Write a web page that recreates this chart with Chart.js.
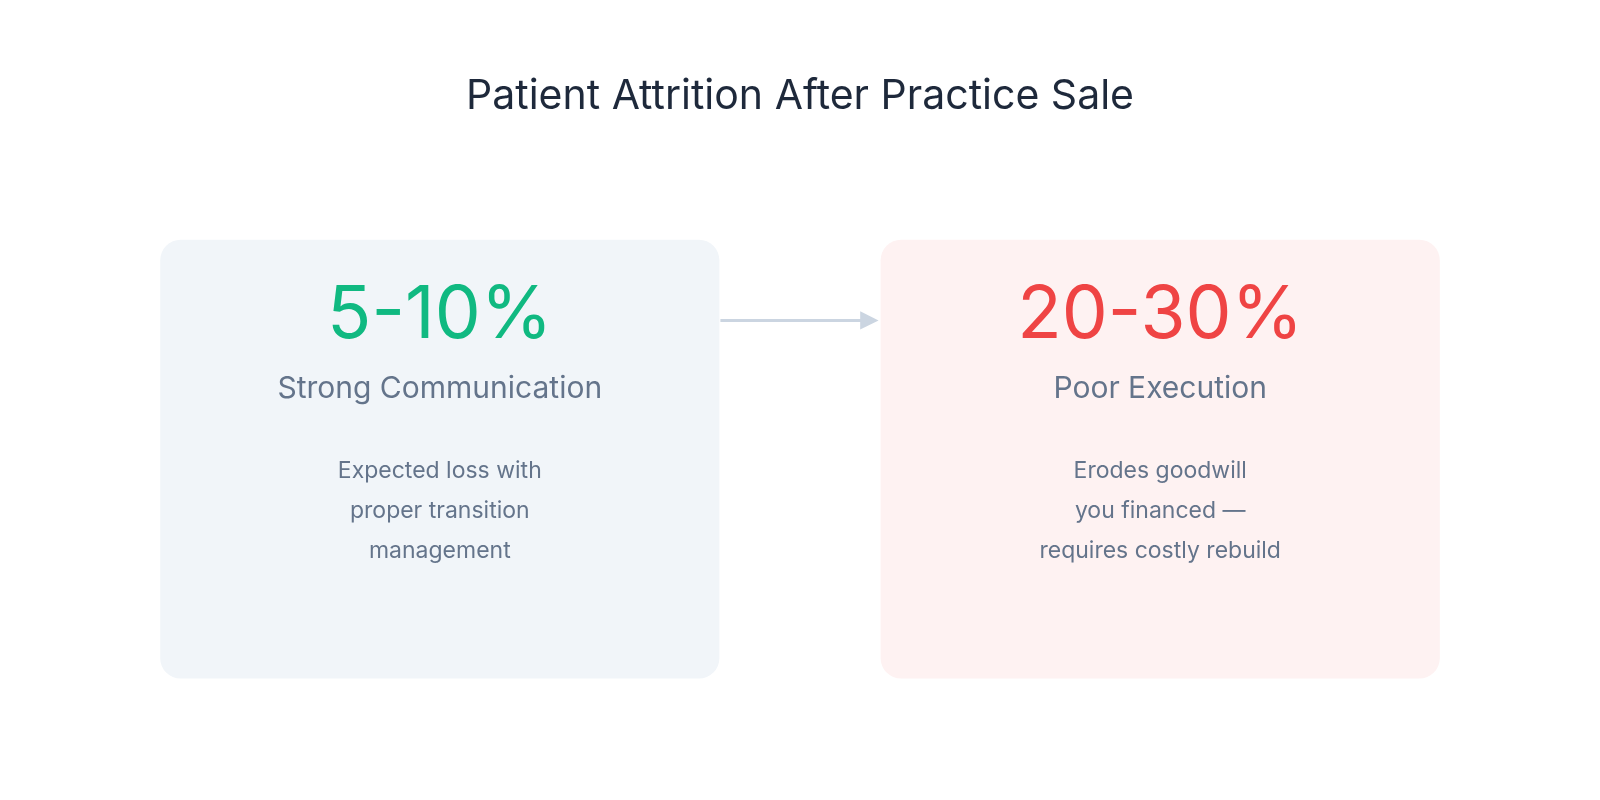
<!DOCTYPE html>
<html>
<head>
<meta charset="utf-8">
<script src="https://cdn.jsdelivr.net/npm/chart.js@4"></script>
<style>
  html, body { margin: 0; padding: 0; background: #ffffff; overflow: hidden; }
  #wrap { width: 1600px; height: 800px; }
</style>
</head>
<body>
<div id="wrap"><canvas id="c"></canvas></div>
<script>
var title = "Patient Attrition After Practice Sale";
var cardValues = ["5-10%", "20-30%"];
var cardLabels = ["Strong Communication", "Poor Execution"];
var cardNotes = [
  ["Expected loss with", "proper transition", "management"],
  ["Erodes goodwill", "you financed \u2014", "requires costly rebuild"]
];
var valueColors = ["#10b981", "#ef4444"];
var cardFills = ["#f1f5f9", "#fef2f2"];

var FONT = "Inter, 'Noto Sans', sans-serif";

function roundRect(ctx, x, y, w, h, r) {
  ctx.beginPath();
  ctx.moveTo(x + r, y);
  ctx.arcTo(x + w, y, x + w, y + h, r);
  ctx.arcTo(x + w, y + h, x, y + h, r);
  ctx.arcTo(x, y + h, x, y, r);
  ctx.arcTo(x, y, x + w, y, r);
  ctx.closePath();
}

// draws the cards using the chart's own (hidden) scales as a pixel grid
var cardsPlugin = {
  id: "cards",
  afterDraw: function (chart) {
    var ctx = chart.ctx;
    var sx = chart.scales.x, sy = chart.scales.y;
    var X = function (v) { return sx.getPixelForValue(v); };
    var Y = function (v) { return sy.getPixelForValue(v); };
    var k = chart.width / 1568;
    var f = function (px) { return Math.round(px * k) + "px " + FONT; };
    ctx.save();
    ctx.textAlign = "center";
    ctx.textBaseline = "middle";
    ctx.fillStyle = "#1e293b";
    ctx.font = f(40);
    ctx.fillText(title, X(784), Y(95));

    var lefts = [157, 863];
    lefts.forEach(function (l, i) {
      ctx.fillStyle = cardFills[i];
      roundRect(ctx, X(l), Y(235), X(l + 548) - X(l), Y(665) - Y(235), 20 * k);
      ctx.fill();
      var cx = X(l + 274);
      ctx.fillStyle = valueColors[i];
      ctx.font = f(72);
      ctx.fillText(cardValues[i], cx, Y(310));
      ctx.fillStyle = "#64748b";
      ctx.font = f(29);
      ctx.fillText(cardLabels[i], cx, Y(381));
      ctx.font = f(23);
      cardNotes[i].forEach(function (t, j) {
        ctx.fillText(t, cx, Y(462 + j * 39));
      });
    });

    // arrow
    ctx.strokeStyle = "#cbd5e1";
    ctx.fillStyle = "#cbd5e1";
    ctx.lineWidth = 3 * k;
    ctx.beginPath();
    ctx.moveTo(X(706), Y(314));
    ctx.lineTo(X(846), Y(314));
    ctx.stroke();
    ctx.beginPath();
    ctx.moveTo(X(861), Y(314));
    ctx.lineTo(X(843), Y(305));
    ctx.lineTo(X(843), Y(323));
    ctx.closePath();
    ctx.fill();
    ctx.restore();
  }
};

new Chart(document.getElementById("c"), {
  type: "scatter",
  data: { datasets: [{ data: [] }] },
  options: {
    responsive: true,
    maintainAspectRatio: false,
    animation: false,
    layout: { padding: 0 },
    plugins: { legend: { display: false }, tooltip: { enabled: false } },
    scales: {
      x: { type: "linear", min: 0, max: 1568, display: false },
      y: { type: "linear", min: 0, max: 784, reverse: true, display: false }
    }
  },
  plugins: [cardsPlugin]
});
</script>
</body>
</html>
